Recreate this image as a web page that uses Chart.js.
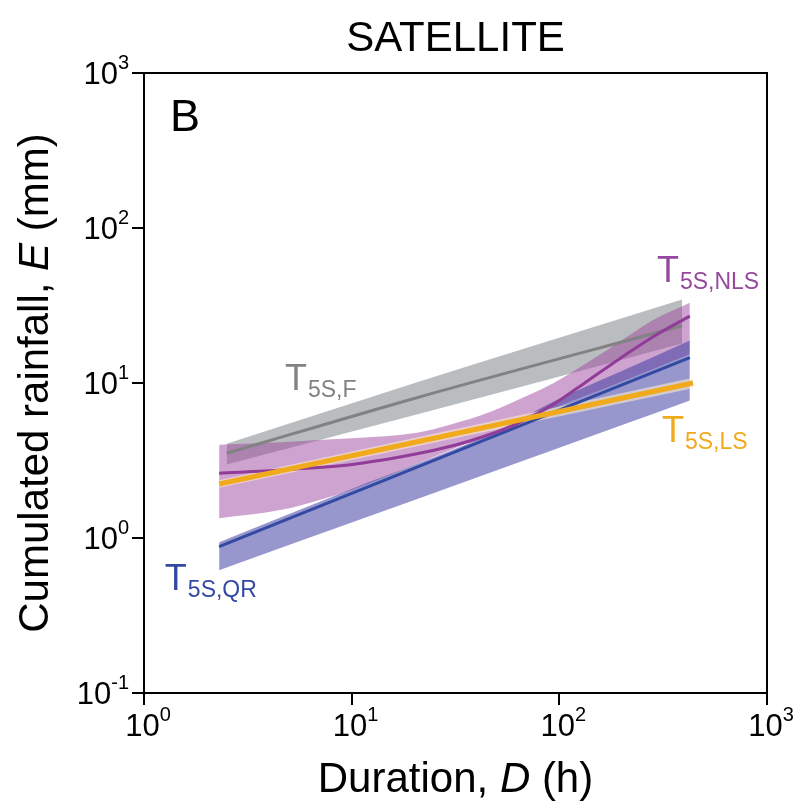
<!DOCTYPE html>
<html>
<head>
<meta charset="utf-8">
<script src="https://cdn.jsdelivr.net/npm/chart.js@4.4.1/dist/chart.umd.min.js"></script>
<style>
  body { margin: 0; background: #fff; }
  #wrap { width: 795px; height: 810px; }
</style>
</head>
<body>
<div id="wrap"><canvas id="rainChart" width="795" height="810"></canvas></div>
<script>
// T5S,F : frequentist threshold and its band
const fDur = [2.5, 21, 390];
const fMid = [3.52, 8.1, 23.4];
const fUp = [4.05, 10.2, 34.6];
const fLow = [2.98, 6.3, 18.0];

// T5S,NLS : non linear least squares
const nlsDur = [2.3, 4.6, 9.6, 16.8, 23, 31, 45, 65, 94, 135, 196, 283, 425];
const nlsMid = [2.62, 2.75, 2.96, 3.32, 3.6, 3.95, 4.6, 5.6, 7.3, 10.2, 14.4, 19.9, 27.0];
const nlsBandDur = [2.3, 4.6, 7.2, 10, 21, 30, 45, 65, 94, 135, 196, 283, 425];
const nlsUp = [4.0, 4.15, 4.3, 4.4, 4.8, 5.4, 6.4, 7.9, 10.0, 13.4, 18.5, 25.5, 33.0];
const nlsLow = [1.34, 1.52, 1.78, 2.05, 3.05, 3.7, 4.6, 5.6, 6.9, 8.3, 10.1, 12.3, 15.3];

// T5S,QR : quantile regression
const qrDur = [2.3, 425];
const qrMid = [0.88, 14.6];
const qrBandDur = [2.3, 10, 50, 94, 196, 425];
const qrUp = [0.94, 2.07, 4.9, 7.6, 11.8, 18.8];
const qrLow = [0.62, 1.26, 2.74, 3.71, 5.29, 7.7];

// T5S,LS : least squares
const lsDur = [2.3, 440];
const lsMid = [2.23, 10.0];
const lsUp = [2.36, 10.8];
const lsLow = [2.11, 9.25];

const xTicks = [1, 10, 100, 1000];
const xTickExp = ['0', '1', '2', '3'];
const yTicks = [0.1, 1, 10, 100, 1000];
const yTickExp = ['-1', '0', '1', '2', '3'];

const FONT = '"Liberation Sans", Arial, Helvetica, sans-serif';

const pts = (xs, ys) => xs.map((x, i) => ({ x: x, y: ys[i] }));

const band = (xs, up, low, color, order, smooth) => [
  {
    data: pts(xs, up), fill: '+1', backgroundColor: color,
    borderColor: 'rgba(0,0,0,0)', borderWidth: 0, pointRadius: 0, order: order,
    cubicInterpolationMode: smooth ? 'monotone' : 'default'
  },
  {
    data: pts(xs, low), fill: false, backgroundColor: 'rgba(0,0,0,0)',
    borderColor: 'rgba(0,0,0,0)', borderWidth: 0, pointRadius: 0, order: order,
    cubicInterpolationMode: smooth ? 'monotone' : 'default'
  }
];

const line = (xs, ys, color, width, order, smooth) => ({
  data: pts(xs, ys), fill: false, borderColor: color, borderWidth: width,
  pointRadius: 0, order: order, borderCapStyle: 'butt',
  cubicInterpolationMode: smooth ? 'monotone' : 'default'
});

const COL = {
  f: 'rgb(130,130,130)',
  nls: 'rgb(145,60,152)',
  qr: 'rgb(52,74,162)',
  ls: 'rgb(240,170,28)'
};

const datasets = [
  ...band(fDur, fUp, fLow, 'rgba(118,124,130,0.5)', 10, true),
  ...band(nlsBandDur, nlsUp, nlsLow, 'rgba(160,72,160,0.5)', 9, true),
  ...band(qrBandDur, qrUp, qrLow, 'rgba(58,58,160,0.53)', 8, true),
  ...band(lsDur, lsUp, lsLow, 'rgba(250,236,205,0.6)', 7, false),
  line(fDur, fMid, COL.f, 3, 6, true),
  line(qrDur, qrMid, COL.qr, 3, 5, false),
  line(nlsDur, nlsMid, COL.nls, 3, 4, true),
  line(lsDur, lsMid, COL.ls, 5, 3, false)
];

// threshold names, anchored in data units
const seriesNotes = [
  { sub: '5S,F', d: 4.77, e: 9.0, color: COL.f },
  { sub: '5S,NLS', d: 295, e: 44.8, color: 'rgb(150,72,158)' },
  { sub: '5S,LS', d: 312, e: 4.16, color: COL.ls },
  { sub: '5S,QR', d: 1.26, e: 0.462, color: COL.qr }
];

const power = (ctx, exp, x, y, align) => {
  ctx.font = '31px ' + FONT;
  const wMain = ctx.measureText('10').width;
  ctx.font = '20px ' + FONT;
  const wSup = ctx.measureText(exp).width;
  const w = wMain + wSup;
  let x0 = align === 'right' ? x - w : x - w / 2;
  ctx.textAlign = 'left';
  ctx.textBaseline = 'alphabetic';
  ctx.font = '31px ' + FONT;
  ctx.fillText('10', x0, y);
  ctx.font = '20px ' + FONT;
  ctx.fillText(exp, x0 + wMain, y - 15);
};

const decor = {
  id: 'decor',
  afterDraw(chart) {
    const { ctx, chartArea: a, scales } = chart;
    ctx.save();
    ctx.strokeStyle = '#000';
    ctx.lineWidth = 2;
    ctx.strokeRect(a.left, a.top, a.right - a.left, a.bottom - a.top);

    ctx.fillStyle = '#000';
    xTicks.forEach((v, i) => power(ctx, xTickExp[i], scales.x.getPixelForValue(v) + 4, a.bottom + 43, 'center'));
    yTicks.forEach((v, i) => power(ctx, yTickExp[i], a.left - 15, scales.y.getPixelForValue(v) + 11, 'right'));

    // title and panel letter
    ctx.textAlign = 'center';
    ctx.font = '42px ' + FONT;
    ctx.fillText('SATELLITE', (a.left + a.right) / 2, 51);
    ctx.textAlign = 'left';
    ctx.font = '45px ' + FONT;
    ctx.fillText('B', a.left + 26, a.top + 58);

    // x axis title with italic symbol
    const xParts = [['Duration, ', ''], ['D', 'italic '], [' (h)', '']];
    const measure = parts => parts.reduce((s, p) => {
      ctx.font = p[1] + '42px ' + FONT;
      return s + ctx.measureText(p[0]).width;
    }, 0);
    let xw = measure(xParts);
    let cx = (a.left + a.right) / 2 - xw / 2;
    xParts.forEach(p => {
      ctx.font = p[1] + '42px ' + FONT;
      ctx.fillText(p[0], cx, 792);
      cx += ctx.measureText(p[0]).width;
    });

    // y axis title, rotated
    const yParts = [['Cumulated rainfall, ', ''], ['E', 'italic '], [' (mm)', '']];
    const yw = measure(yParts);
    ctx.save();
    ctx.translate(48, (a.top + a.bottom) / 2);
    ctx.rotate(-Math.PI / 2);
    let cy = -yw / 2;
    yParts.forEach(p => {
      ctx.font = p[1] + '42px ' + FONT;
      ctx.fillText(p[0], cy, 0);
      cy += ctx.measureText(p[0]).width;
    });
    ctx.restore();

    // threshold names
    seriesNotes.forEach(n => {
      const px = scales.x.getPixelForValue(n.d);
      const py = scales.y.getPixelForValue(n.e);
      ctx.fillStyle = n.color;
      ctx.font = '36px ' + FONT;
      ctx.fillText('T', px, py);
      const tw = ctx.measureText('T').width;
      ctx.font = '23px ' + FONT;
      ctx.fillText(n.sub, px + tw + 1, py + 7);
    });
    ctx.restore();
  }
};

const decadeTicks = values => scale => {
  scale.ticks = values.map(v => ({ value: v }));
};

const axisGrid = {
  display: true, drawOnChartArea: false, drawTicks: true,
  tickLength: 12, color: '#000', lineWidth: 2
};

new Chart(document.getElementById('rainChart'), {
  type: 'line',
  data: { datasets: datasets },
  options: {
    responsive: false,
    animation: false,
    devicePixelRatio: 1,
    layout: { padding: { top: 73, right: 28, left: 0, bottom: 0 } },
    plugins: { legend: { display: false }, tooltip: { enabled: false }, title: { display: false } },
    scales: {
      x: {
        type: 'logarithmic', min: 1, max: 1000, position: 'bottom',
        afterBuildTicks: decadeTicks(xTicks),
        afterFit: s => { s.height = 117; },
        ticks: { display: false },
        grid: axisGrid,
        border: { display: true, color: '#000', width: 2 }
      },
      y: {
        type: 'logarithmic', min: 0.1, max: 1000, position: 'left',
        afterBuildTicks: decadeTicks(yTicks),
        afterFit: s => { s.width = 144; },
        ticks: { display: false },
        grid: axisGrid,
        border: { display: true, color: '#000', width: 2 }
      }
    }
  },
  plugins: [decor]
});
</script>
</body>
</html>
